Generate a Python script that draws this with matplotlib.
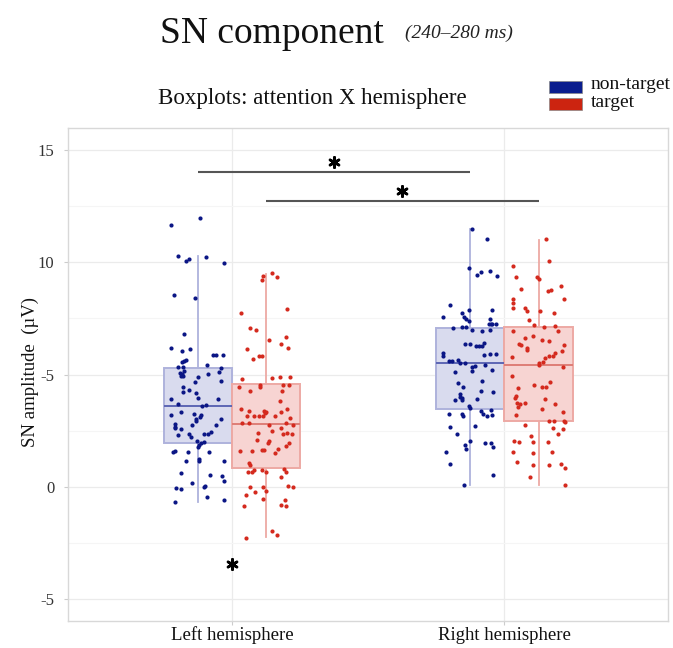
import matplotlib
matplotlib.use("Agg")
import matplotlib.pyplot as plt
from matplotlib.patches import Rectangle
import numpy as np

plt.rcParams['font.family'] = ['Liberation Serif', 'DejaVu Serif']

# ---------------- data ----------------
hemispheres = ["Left hemisphere", "Right hemisphere"]
conditions = ["non-target", "target"]
yticks = [15, 10, 5, 0, -5]
ytick_labels = ["15", "10", "-5", "0", "-5"]

# box statistics: whisker low, q1, median, q3, whisker high
left_nt_stats = [-0.68, 1.93, 3.61, 5.30, 10.28]
left_t_stats = [-2.25, 0.82, 2.79, 4.58, 9.50]
right_nt_stats = [0.06, 3.46, 5.50, 7.07, 11.51]
right_t_stats = [0.05, 2.91, 5.42, 7.14, 11.02]

# individual subject values (µV) and their horizontal jitter
left_nt_vals = [11.68, 11.97, 10.29, 10.08, 10.16, 10.23, 9.99, 8.56, 8.40, 6.80, 6.17, 6.16, 6.03, 5.65,
                5.61, 5.56, 5.88, 5.85, 5.86, 5.34, 5.32, 5.41, 5.27, 5.13, 5.16, 5.06, 5.01, 4.95, 4.92,
                4.88, 5.04, 4.70, 4.67, 4.45, 4.24, 4.30, 4.18, 3.94, 3.92, 3.91, 3.60, 3.64, 3.67, 3.34,
                3.18, 3.25, 3.19, 3.12, 3.02, 2.93, 3.00, 2.79, 2.67, 2.75, 2.75, 2.61, 2.57, 2.31, 2.36,
                2.34, 2.34, 2.45, 2.20, 2.05, 1.96, 1.97, 1.85, 1.78, 1.55, 1.57, 1.54, 1.54, 1.15, 1.21,
                1.15, 1.12, 0.60, 0.50, 0.45, 0.24, 0.14, 0.03, -0.03, -0.07, -0.13, -0.46, -0.59, -0.71]
left_nt_jit = [-0.100, 0.009, -0.071, -0.043, -0.034, 0.031, 0.095, -0.088, -0.012, -0.049, -0.100, -0.027,
               -0.059, -0.045, -0.051, -0.059, 0.056, 0.067, 0.094, -0.074, -0.056, 0.033, 0.087, 0.079,
               -0.049, -0.065, -0.059, -0.062, -0.054, -0.001, 0.039, 0.087, -0.009, -0.054, -0.056, -0.031,
               -0.006, 0.001, -0.099, 0.076, 0.017, 0.031, -0.071, -0.061, -0.100, -0.013, 0.011, 0.007,
               -0.006, -0.007, 0.087, -0.083, -0.082, -0.020, 0.066, -0.083, -0.060, -0.071, -0.033, 0.022,
               0.039, 0.049, -0.024, -0.004, 0.010, 0.021, 0.004, 0.001, -0.090, -0.083, -0.037, 0.040,
               -0.043, 0.006, 0.004, 0.098, -0.062, 0.045, 0.088, 0.095, -0.023, 0.026, 0.022, -0.081,
               -0.061, 0.034, 0.098, -0.084]

left_t_vals = [9.53, 9.40, 9.23, 9.34, 7.76, 7.93, 7.07, 6.98, 6.52, 6.67, 6.12, 6.34, 6.19, 5.71, 5.83,
               5.83, 4.79, 4.83, 4.88, 4.88, 4.46, 4.55, 4.46, 4.27, 4.51, 4.55, 4.27, 3.82, 3.48, 3.39,
               3.13, 3.13, 3.15, 3.15, 3.39, 3.34, 3.27, 3.33, 3.48, 3.07, 3.15, 2.84, 2.82, 2.73, 2.82,
               2.76, 2.63, 2.40, 2.46, 2.34, 2.40, 2.34, 2.09, 1.96, 2.02, 1.96, 1.82, 1.58, 1.60, 1.64,
               1.63, 1.66, 1.51, 1.06, 0.96, 0.67, 0.67, 0.73, 0.76, 0.63, 0.79, 0.66, 0.42, -0.01, -0.01,
               -0.21, -0.24, -0.38, 0.02, -0.01, -0.56, -0.86, -0.61, -0.82, -0.88, -2.28, -1.99, -2.14]
left_t_jit = [0.022, -0.011, -0.013, 0.039, -0.093, 0.077, -0.060, -0.038, 0.011, 0.073, -0.068, 0.057,
              0.082, -0.048, -0.026, -0.013, -0.089, 0.024, 0.051, 0.087, -0.098, -0.021, -0.022, -0.059,
              0.062, 0.085, 0.059, 0.050, -0.093, -0.061, -0.045, -0.071, -0.027, -0.009, -0.007, -0.001,
              -0.002, 0.056, 0.076, 0.090, 0.035, -0.087, -0.062, 0.013, 0.073, 0.100, 0.055, -0.028,
              0.024, 0.062, 0.076, 0.096, -0.034, 0.006, 0.010, 0.085, 0.073, -0.096, -0.050, -0.013,
              -0.007, 0.044, 0.034, -0.063, -0.060, -0.066, -0.050, -0.043, -0.015, 0.002, 0.066, 0.072,
              0.057, -0.059, -0.012, 0.001, -0.040, -0.073, 0.082, 0.099, -0.010, -0.079, 0.071, 0.057,
              0.073, -0.072, 0.022, 0.040]

right_nt_vals = [11.51, 11.04, 9.75, 9.43, 9.56, 9.62, 9.40, 8.08, 7.58, 7.74, 7.89, 7.55, 7.46, 7.40,
                 7.87, 7.49, 7.26, 7.25, 7.25, 7.26, 7.07, 7.10, 7.13, 6.97, 6.95, 6.98, 6.34, 6.34, 6.28,
                 6.25, 6.25, 6.40, 5.94, 5.82, 5.89, 5.91, 5.92, 5.59, 5.61, 5.65, 5.53, 5.53, 5.09, 5.35,
                 5.40, 5.15, 5.43, 5.19, 4.61, 4.45, 4.70, 4.28, 4.24, 4.15, 3.98, 3.95, 3.87, 3.84, 3.89,
                 3.60, 3.51, 3.24, 3.22, 3.16, 3.36, 3.22, 3.16, 3.18, 3.40, 2.67, 2.69, 2.33, 2.02, 1.87,
                 1.67, 1.94, 1.94, 1.75, 1.52, 1.02, 0.50, 0.05]
right_nt_jit = [0.005, 0.062, -0.005, 0.026, 0.038, 0.073, 0.099, -0.074, -0.100, -0.029, -0.005, -0.022,
                -0.015, -0.006, 0.081, 0.071, 0.074, 0.068, 0.079, 0.095, -0.063, -0.029, -0.016, 0.007,
                0.044, 0.072, -0.021, -0.002, 0.021, 0.033, 0.044, 0.050, -0.102, -0.099, 0.051, 0.071,
                0.093, -0.078, -0.068, -0.045, -0.037, -0.018, -0.057, 0.005, 0.017, 0.005, 0.052, 0.079,
                -0.044, -0.026, 0.044, 0.040, 0.083, -0.037, -0.039, -0.032, -0.057, -0.031, 0.023, -0.005,
                0.000, -0.078, -0.032, -0.026, 0.038, 0.046, 0.062, 0.078, 0.074, -0.074, 0.018, -0.048,
                -0.001, -0.020, -0.016, 0.054, 0.074, 0.083, -0.088, -0.076, 0.084, -0.024]

right_t_vals = [11.04, 10.07, 9.83, 9.35, 9.37, 9.25, 8.80, 8.71, 8.77, 8.93, 8.37, 8.35, 8.17, 7.98, 7.95,
                7.85, 7.82, 7.73, 7.44, 7.23, 7.13, 7.16, 6.95, 6.95, 6.61, 6.73, 6.52, 6.49, 6.37, 6.32,
                6.20, 6.11, 6.32, 6.04, 5.95, 5.82, 5.74, 5.56, 5.50, 5.41, 5.80, 5.83, 5.32, 4.95, 4.67,
                4.46, 4.43, 4.51, 4.40, 4.03, 3.95, 3.72, 3.67, 3.54, 3.72, 3.92, 3.69, 3.45, 3.34, 3.21,
                2.91, 2.94, 2.91, 2.87, 2.76, 2.60, 2.55, 2.34, 2.24, 2.02, 1.97, 1.99, 2.00, 1.55, 1.49,
                1.54, 1.08, 0.96, 0.94, 1.02, 0.81, 0.42, 0.05]
right_t_jit = [0.026, 0.038, -0.095, -0.083, -0.007, 0.001, -0.063, 0.034, 0.046, 0.084, 0.092, -0.092,
               -0.094, -0.095, -0.048, -0.044, 0.006, 0.056, -0.035, -0.018, 0.020, 0.061, 0.071, -0.092,
               -0.050, -0.022, 0.011, 0.037, -0.070, -0.063, -0.044, -0.041, 0.092, 0.085, 0.062, 0.054,
               0.024, 0.015, 0.001, 0.000, -0.099, 0.037, 0.089, -0.099, 0.043, 0.029, 0.011, -0.018,
               -0.077, -0.083, -0.085, -0.078, -0.068, -0.074, -0.051, 0.022, 0.061, 0.011, 0.089, -0.083,
               0.038, 0.056, 0.095, 0.098, -0.051, 0.052, 0.089, 0.072, -0.028, -0.089, -0.072, -0.022,
               0.034, -0.094, -0.022, 0.050, -0.079, -0.021, 0.039, 0.084, 0.098, -0.031, 0.098]

# significance comparisons: (hemisphere index a, condition a, hemisphere index b, condition b, bar level)
sig_pairs = [(0, 0, 1, 0, 14.05), (0, 1, 1, 1, 12.75)]
sig_star_within = [(0, -3.45)]  # hemisphere index, level

# ---------------- style ----------------
group_pos = [1.0, 2.0]
dodge = 0.125
box_w = 0.25
pt_colors = ["#0b1685", "#d42a1e"]
box_face = ["#d9dbee", "#f7d4d2"]
box_edge = ["#aeb2dc", "#eda9a4"]
med_col = ["#5d66b4", "#de7d76"]
legend_col = ["#0a1d8e", "#cc2410"]
grid_major = "#ebebeb"
grid_minor = "#f5f5f5"

fig = plt.figure(figsize=(6.73, 6.48), dpi=100)
ax = fig.add_axes([68.3 / 673, 1 - 621 / 648, (668 - 68.3) / 673, (621 - 128) / 648])

stats_all = [[left_nt_stats, left_t_stats], [right_nt_stats, right_t_stats]]
vals_all = [[left_nt_vals, left_t_vals], [right_nt_vals, right_t_vals]]
jit_all = [[left_nt_jit, left_t_jit], [right_nt_jit, right_t_jit]]

for gi, gp in enumerate(group_pos):
    for ci in range(2):
        pos = gp + (-dodge if ci == 0 else dodge)
        lo, q1, med, q3, hi = stats_all[gi][ci]
        st = [dict(whislo=lo, q1=q1, med=med, q3=q3, whishi=hi, fliers=[])]
        ax.bxp(st, positions=[pos], widths=box_w, patch_artist=True, showcaps=False,
               showfliers=False,
               boxprops=dict(facecolor=box_face[ci], edgecolor=box_edge[ci], linewidth=1.4),
               whiskerprops=dict(color=box_edge[ci], linewidth=1.3),
               medianprops=dict(color=med_col[ci], linewidth=1.4),
               zorder=2)
        xs = pos + np.asarray(jit_all[gi][ci])
        ax.scatter(xs, vals_all[gi][ci], s=9, color=pt_colors[ci], linewidths=0, zorder=3)

# significance bars
star_kw = dict(marker=(6, 2, 0), s=55, color="black", linewidths=1.9, zorder=4)
for ga, ca, gb, cb, lvl in sig_pairs:
    xa = group_pos[ga] + (-dodge if ca == 0 else dodge)
    xb = group_pos[gb] + (-dodge if cb == 0 else dodge)
    ax.plot([xa, xb], [lvl, lvl], color="#555555", lw=1.5, zorder=4, solid_capstyle="butt")
    ax.scatter([(xa + xb) / 2], [lvl + 0.42], **star_kw)
for gi, lvl in sig_star_within:
    ax.scatter([group_pos[gi]], [lvl], **star_kw)

ax.set_xlim(0.4, 2.6)
ax.set_ylim(-6, 16)
ax.set_yticks(yticks)
ax.set_yticklabels(ytick_labels)
ax.set_yticks([12.5, 7.5, 2.5, -2.5], minor=True)
ax.set_xticks(group_pos)
ax.set_xticklabels(hemispheres)
ax.tick_params(axis="y", which="major", length=3, color="#cccccc", labelsize=12,
               labelcolor="#333333", pad=7)
ax.tick_params(axis="y", which="minor", length=0)
ax.tick_params(axis="x", length=3, color="#cccccc", labelsize=13.5, labelcolor="#111111", pad=1)
ax.grid(True, which="major", axis="y", color=grid_major, lw=0.9, zorder=0)
ax.grid(True, which="minor", axis="y", color=grid_minor, lw=0.8, zorder=0)
ax.grid(True, which="major", axis="x", color=grid_major, lw=0.9, zorder=0)
ax.set_axisbelow(True)
for sp in ax.spines.values():
    sp.set_color("#d8d8d8")
    sp.set_linewidth(1.0)

# titles and labels
fig.text(160 / 673, 1 - 43 / 648, "SN component", fontsize=27, ha="left", va="baseline",
         color="#111111")
fig.text(405 / 673, 1 - 38 / 648, "(240\u2013280 ms)", fontsize=14, style="italic", ha="left",
         va="baseline", color="#222222")
fig.text(158 / 673, 1 - 104 / 648, "Boxplots: attention X hemisphere", fontsize=16.5, ha="left",
         va="baseline", color="#111111")
fig.text(30 / 673, 1 - 372 / 648, "SN amplitude  (\u00b5V)", fontsize=13.5, rotation=90,
         ha="center", va="center", color="#111111")

# legend
patch_top = [81, 98]
text_baseline = [89, 107]
for ci, lab in enumerate(conditions):
    fig.patches.append(Rectangle((549 / 673, 1 - (patch_top[ci] + 11.5) / 648), 33 / 673, 11.5 / 648,
                                 transform=fig.transFigure, facecolor=legend_col[ci],
                                 edgecolor="#888888", linewidth=0.5))
    fig.text(591 / 673, 1 - text_baseline[ci] / 648, lab, fontsize=14, ha="left", va="baseline",
             color="#111111")

fig.savefig("out.png", dpi=100)
